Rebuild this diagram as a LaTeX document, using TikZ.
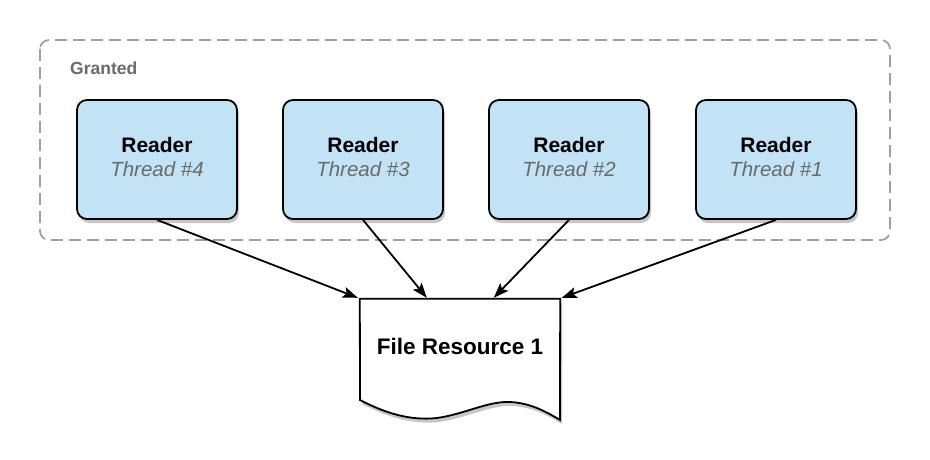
\documentclass[tikz,border=0pt]{standalone}
\usepackage{fontspec}
\setmainfont{Liberation Sans}
\usetikzlibrary{arrows.meta,shadows,calc}
\definecolor{readerfill}{HTML}{C2E3F5}
\definecolor{dashgray}{HTML}{A0A0A0}
\definecolor{labelgray}{HTML}{6A6A6A}
\tikzset{
  readerbox/.style={draw=black, line width=1.8pt, fill=readerfill, rounded corners=10pt,
    minimum width=160pt, minimum height=119pt, inner sep=0pt, align=center,
    font=\fontsize{20.5}{25}\selectfont,
    drop shadow={shadow xshift=2pt, shadow yshift=-4pt, opacity=0.22, fill=black}},
  groupbox/.style={draw=dashgray, line width=1.8pt, dash pattern=on 12pt off 6pt, rounded corners=9pt},
  conn/.style={line width=1.8pt, -{Stealth[length=15pt,width=11pt,inset=3pt]}},
  grouplabel/.style={font=\fontsize{17.5}{20}\selectfont\bfseries, text=labelgray, anchor=west, inner sep=0pt},
  restext/.style={font=\fontsize{22.5}{26}\selectfont\bfseries, inner sep=0pt}
}
\newcommand{\readertext}[1]{\raisebox{2.5pt}{\begin{tabular}{@{}c@{}}{\fontsize{21}{25}\selectfont\bfseries Reader}\\[-1pt]{\itshape\color{labelgray}Thread \##1}\end{tabular}}}
\begin{document}
\begin{tikzpicture}[x=1pt,y=-1pt]
\useasboundingbox (0,0) rectangle (930,460);
\draw[groupbox] (40,40) rectangle (890,240);
\node[grouplabel] (granted) at (70,68) {Granted};
\node[readerbox] (r4) at (157,159.5) {\readertext{4}};
\node[readerbox] (r3) at (363,159.5) {\readertext{3}};
\node[readerbox] (r2) at (569,159.5) {\readertext{2}};
\node[readerbox] (r1) at (776,159.5) {\readertext{1}};
% document shape
\node[minimum width=200pt, minimum height=100pt, inner sep=0pt] (res) at (460,349) {};
\draw[line width=1.8pt, fill=white, drop shadow={shadow xshift=2pt, shadow yshift=-4pt, opacity=0.22, fill=black}]
  (res.north west) -- (res.north east) -- (560,420)
  .. controls (545,411) and (530,403) .. (510,402)
  .. controls (488,401) and (465,414) .. (437,418)
  .. controls (410,421) and (385,413) .. (360,400) -- cycle;
\node[restext] (restxt) at (460,346.5) {File Resource 1};
\coordinate (t4) at ($(res.north west)+(-2,-1)$);
\coordinate (t3) at ($(res.north west)+(67,-1)$);
\coordinate (t2) at ($(res.north west)+(134,-1)$);
\coordinate (t1) at ($(res.north west)+(202,-1)$);
\draw[conn] (r4.south) -- (t4);
\draw[conn] (r3.south) -- (t3);
\draw[conn] (r2.south) -- (t2);
\draw[conn] (r1.south) -- (t1);
\end{tikzpicture}
\end{document}
